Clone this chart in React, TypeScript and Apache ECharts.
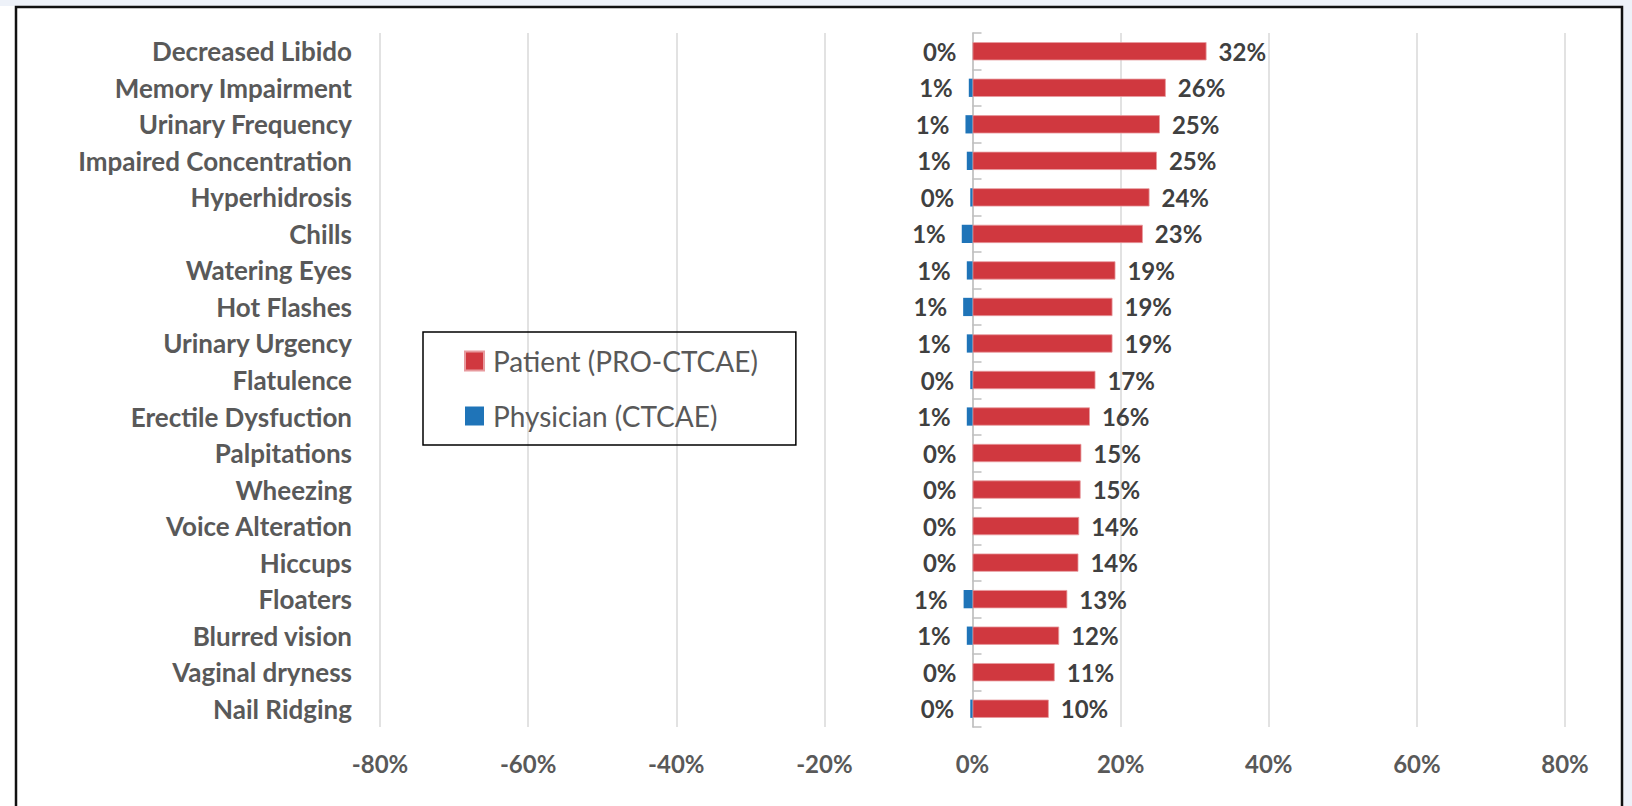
import React, { useEffect, useRef } from "react";
import * as echarts from "echarts";

const categories = [
  "Decreased Libido",
  "Memory Impairment",
  "Urinary Frequency",
  "Impaired Concentration",
  "Hyperhidrosis",
  "Chills",
  "Watering Eyes",
  "Hot Flashes",
  "Urinary Urgency",
  "Flatulence",
  "Erectile Dysfuction",
  "Palpitations",
  "Wheezing",
  "Voice Alteration",
  "Hiccups",
  "Floaters",
  "Blurred vision",
  "Vaginal dryness",
  "Nail Ridging",
];

// Patient-reported (PRO-CTCAE), percent
const patientValues = [
  31.6, 26.1, 25.3, 24.9, 23.9, 23.0, 19.3, 18.9, 18.9, 16.6, 15.85, 14.7,
  14.6, 14.4, 14.3, 12.8, 11.7, 11.1, 10.3,
];

// Physician-reported (CTCAE), percent (drawn to the left of zero)
const physicianValues = [
  0, 0.5, 0.95, 0.77, 0.3, 1.45, 0.77, 1.26, 0.77, 0.3, 0.77, 0, 0, 0, 0, 1.2,
  0.77, 0, 0.3,
];

const xTicks = { min: -80, max: 80, interval: 20 };

const seriesNames = ["Patient (PRO-CTCAE)", "Physician (CTCAE)"];

const RED = "#D0383F";
const BLUE = "#1F74B8";
const FONT = "Lato";

export default function App() {
  const ref = useRef<HTMLDivElement>(null);

  useEffect(() => {
    if (!ref.current) return;
    const chart = echarts.init(ref.current, null, { renderer: "svg" });
    chart.setOption({
      animation: false,
      backgroundColor: "#ffffff",
      grid: { left: 380, right: 67, top: 33, bottom: 79, containLabel: false },
      legend: {
        data: seriesNames,
        orient: "vertical",
        left: 423,
        top: 332,
        icon: "rect",
        itemWidth: 19,
        itemHeight: 19,
        itemGap: 25,
        padding: [14, 38, 14, 41],
        borderColor: "#000000",
        borderWidth: 1.5,
        textStyle: {
          fontFamily: FONT,
          fontSize: 28,
          color: "#595959",
          lineHeight: 30,
          padding: [0, 0, 0, 4],
        },
      },
      xAxis: {
        type: "value",
        min: xTicks.min,
        max: xTicks.max,
        interval: xTicks.interval,
        axisLine: { show: false },
        axisTick: { show: false },
        splitLine: { lineStyle: { color: "#D9D9D9", width: 1.5 } },
        axisLabel: {
          formatter: (v: number) => `${v}%`,
          fontFamily: FONT,
          fontWeight: "bold",
          fontSize: 24,
          color: "#595959",
          margin: 24,
        },
      },
      yAxis: [
        {
          type: "category",
          data: categories,
          inverse: true,
          axisLine: { show: false, onZero: false },
          axisTick: { show: false },
          axisLabel: {
            fontFamily: FONT,
            fontWeight: "bold",
            fontSize: 26,
            color: "#595959",
            margin: 28,
          },
        },
        {
          type: "category",
          data: categories,
          inverse: true,
          position: "left",
          axisLine: {
            show: true,
            onZero: true,
            lineStyle: { color: "#BFBFBF", width: 1.5 },
          },
          axisTick: {
            show: true,
            inside: true,
            length: 9,
            lineStyle: { color: "#BFBFBF", width: 1.5 },
          },
          axisLabel: { show: false },
          splitLine: { show: false },
        },
      ],
      graphic: [
        {
          type: "rect",
          shape: { x: 0, y: 0, width: 1632, height: 6 },
          style: { fill: "#EEF2F9" },
          silent: true,
        },
        {
          type: "rect",
          shape: { x: 1623, y: 0, width: 9, height: 806 },
          style: { fill: "#EEF2F9" },
          silent: true,
        },
        {
          type: "rect",
          shape: { x: 16, y: 7, width: 1606, height: 820 },
          style: { fill: "none", stroke: "#111111", lineWidth: 2.5 },
          silent: true,
          z: 100,
        },
      ],
      series: [
        {
          name: seriesNames[0],
          type: "bar",
          yAxisIndex: 0,
          data: patientValues,
          barCategoryGap: "50%",
          barGap: "-100%",
          itemStyle: { color: RED, borderColor: "#E79A9E", borderWidth: 0.8 },
          label: {
            show: true,
            position: "right",
            distance: 12,
            formatter: (p: any) => `${Math.round(p.value)}%`,
            fontFamily: FONT,
            fontWeight: "bold",
            fontSize: 24,
            color: "#404040",
          },
        },
        {
          name: seriesNames[1],
          type: "bar",
          yAxisIndex: 0,
          data: physicianValues.map((v) => -v),
          barCategoryGap: "50%",
          barGap: "-100%",
          itemStyle: { color: BLUE },
          label: {
            show: true,
            position: "left",
            distance: 16,
            formatter: (p: any) => `${Math.round(Math.abs(p.value))}%`,
            fontFamily: FONT,
            fontWeight: "bold",
            fontSize: 24,
            color: "#404040",
          },
        },
      ],
    });
    return () => chart.dispose();
  }, []);

  return (
    <div
      ref={ref}
      style={{
        position: "absolute",
        left: 0,
        top: 0,
        width: 1632,
        height: 806,
      }}
    />
  );
}
